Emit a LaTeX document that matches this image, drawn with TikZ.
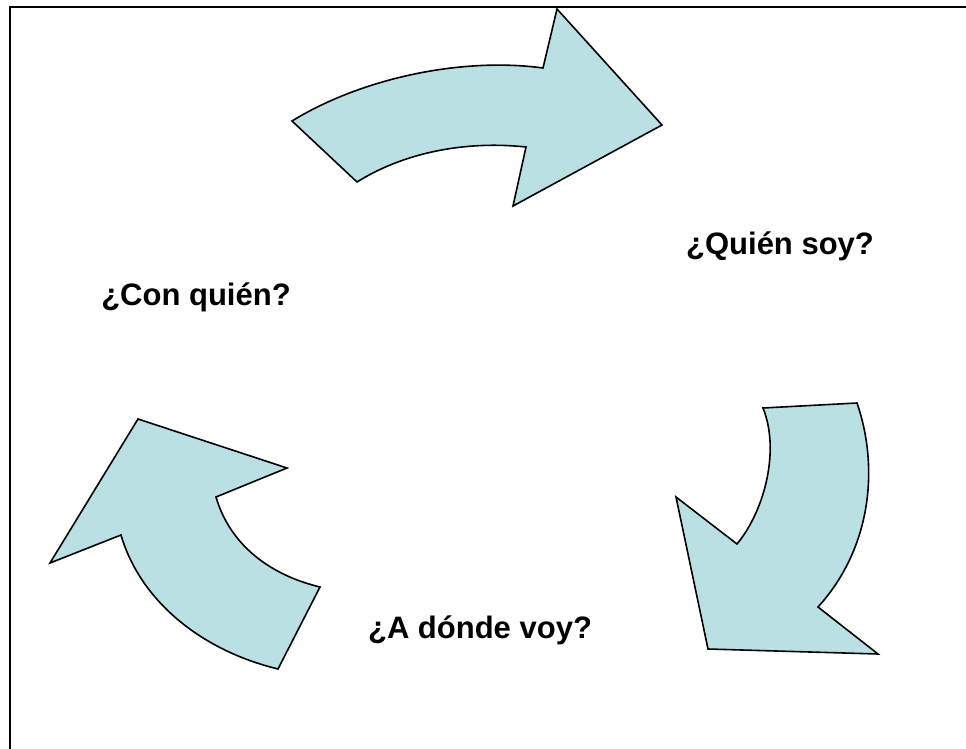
\documentclass[tikz,border=0pt]{standalone}
\usepackage{fontspec}
\setmainfont{Liberation Sans}
\begin{document}
\begin{tikzpicture}[x=1pt,y=-1pt,
  arrowshape/.style={draw=black,line width=1.6pt,line join=miter,fill=arrowfill},
  label/.style={font=\fontsize{31}{37}\selectfont\bfseries,anchor=base,inner sep=0pt}]
\definecolor{arrowfill}{RGB}{187,224,227}
\useasboundingbox (0,0) rectangle (966,749);
\coordinate (fbl) at (10,760);
\coordinate (ftl) at (10,7);
\coordinate (ftr) at (980,7);
\draw[line width=2.2pt] (fbl) -- (ftl) -- (ftr);
% top arrow
\draw[arrowshape] (292,121) .. controls (362,78) and (462,57) .. (543,68)
  -- (557,9) -- (662,125) -- (513,206) -- (526,147)
  .. controls (460,140) and (400,155) .. (357,182) -- cycle;
% right arrow
\draw[arrowshape] (763,408) -- (857,403)
  .. controls (880,470) and (870,550) .. (818,607)
  -- (878,654) -- (708,649) -- (676,497) -- (737,544)
  .. controls (765,510) and (780,450) .. (763,408) -- cycle;
% left arrow
\draw[arrowshape] (138,419) -- (287,468) -- (216,497)
  .. controls (230,545) and (270,575) .. (320,587)
  -- (278,669) .. controls (200,650) and (140,600) .. (121,535)
  -- (50,563) -- cycle;
\node[label] (q1) at (780,254) {¿Quién soy?};
\node[label] (q2) at (196,305) {¿Con quién?};
\node[label] (q3) at (480,638) {¿A dónde voy?};
\end{tikzpicture}
\end{document}
